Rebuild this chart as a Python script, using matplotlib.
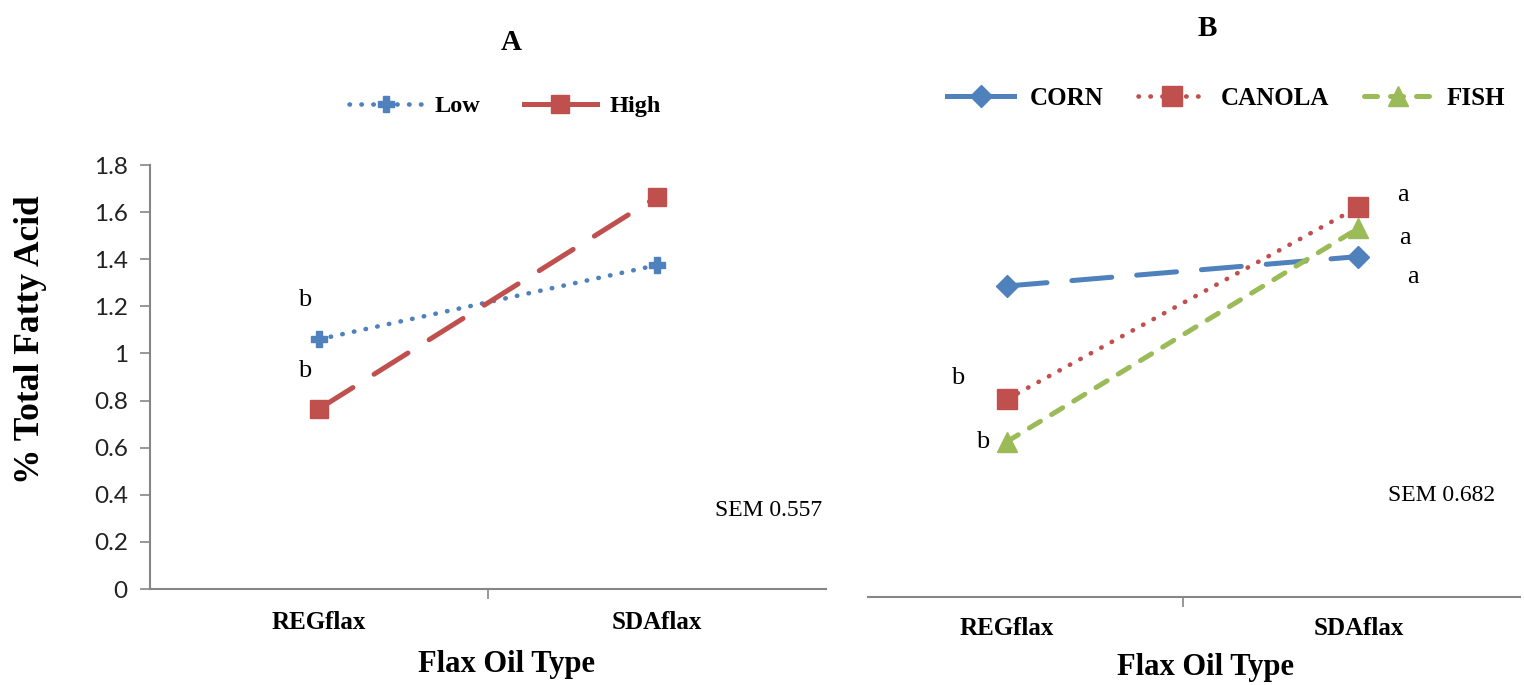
import numpy as np
import matplotlib.pyplot as plt

# data
categories = ['REGflax', 'SDAflax']
low = [1.06, 1.375]
high = [0.765, 1.665]
corn = [1.32, 1.445]
canola = [0.84, 1.655]
fish = [0.66, 1.565]

blue = '#4F81BD'
red = '#C0504D'
green = '#9BBB59'
grey = '#868686'
serif = 'Liberation Serif'

W, H = 1524, 685
fig = plt.figure(figsize=(W / 100, H / 100), dpi=100)

def box(l, r, b, t):
    return [l / W, 1 - b / H, (r - l) / W, (b - t) / H]

def letter(ax, txt, xv, yv, dx, dy):
    # significance letter placed next to a point, offset in pixels
    ax.annotate(txt, (xv, yv), xytext=(dx, dy), textcoords='offset pixels',
                ha='center', va='center', fontsize=19, family=serif)

x = np.arange(len(categories))
dots = (0, (0.1, 2.5))

# ---------- panel A ----------
ax1 = fig.add_axes(box(150, 826, 589, 165))
ax1.plot(x, low, color=blue, lw=3.3, linestyle=dots, dash_capstyle='round',
         marker='P', ms=12, label='Low')
ax1.plot(x, high, color=red, lw=3.6, linestyle=(0, (8, 5)), dash_capstyle='round',
         marker='s', ms=13, label='High')
ax1.set_xlim(-0.5, 1.5)
ax1.set_ylim(0, 1.8)
ax1.set_yticks(np.arange(0, 1.81, 0.2))
ax1.set_yticklabels(['0', '0.2', '0.4', '0.6', '0.8', '1', '1.2', '1.4', '1.6', '1.8'])
ax1.set_xticks([0.5])
ax1.set_xticklabels([''])
for i, c in enumerate(categories):
    ax1.text(i, -0.078, c, ha='center', va='center', fontsize=18, fontweight='bold',
             family=serif, transform=ax1.get_xaxis_transform())
for s in ['top', 'right']:
    ax1.spines[s].set_visible(False)
for s in ['left', 'bottom']:
    ax1.spines[s].set_color(grey)
    ax1.spines[s].set_linewidth(1.5)
ax1.tick_params(axis='y', colors=grey, length=7, width=1.2, labelsize=17.5, labelcolor='#222222', pad=9)
ax1.tick_params(axis='x', colors=grey, length=7, width=1.2)
for lab in ax1.get_yticklabels():
    lab.set_family('Lato')
ax1.set_ylabel('% Total Fatty Acid', fontsize=25.5, fontweight='bold', family=serif)
ax1.yaxis.set_label_coords(-0.152, 0.587)
ax1.text(0.528, -0.179, 'Flax Oil Type', transform=ax1.transAxes, ha='center', va='center',
         fontsize=22, fontweight='bold', family=serif)
ax1.text(0.535, 1.29, 'A', transform=ax1.transAxes, ha='center', va='center',
         fontsize=21, fontweight='bold', family=serif)
letter(ax1, 'b', x[0], low[0], -14, 39)
letter(ax1, 'b', x[0], high[0], -14, 38)
ax1.text(0.994, 0.186, 'SEM 0.557', transform=ax1.transAxes, ha='right', va='center',
         fontsize=17, family=serif)
leg1 = ax1.legend(loc='center', bbox_to_anchor=(0.525, 1.139), ncol=2, frameon=False,
                  handlelength=3.0, handletextpad=0.5, columnspacing=1.8,
                  prop={'family': serif, 'weight': 'bold', 'size': 17.5})
leg1.get_lines()[1].set_linestyle('-')

# ---------- panel B ----------
ax2 = fig.add_axes(box(868, 1520, 597, 165))
ax2.plot(x, corn, color=blue, lw=3.6, linestyle=(0, (8, 5)), dash_capstyle='round',
         marker='D', ms=11, label='CORN')
ax2.plot(x, canola, color=red, lw=3.3, linestyle=dots, dash_capstyle='round',
         marker='s', ms=14, label='CANOLA')
ax2.plot(x, fish, color=green, lw=3.6, linestyle=(0, (2.6, 2.6)), dash_capstyle='round',
         marker='^', ms=14, label='FISH')
ax2.set_xlim(-0.396, 1.46)
ax2.set_ylim(0, 432 / 235.6)
ax2.set_yticks([])
ax2.set_xticks([0.5])
ax2.set_xticklabels([''])
for i, c in enumerate(categories):
    ax2.text(i, -0.072, c, ha='center', va='center', fontsize=18, fontweight='bold',
             family=serif, transform=ax2.get_xaxis_transform())
for s in ['top', 'right', 'left']:
    ax2.spines[s].set_visible(False)
ax2.spines['bottom'].set_color(grey)
ax2.spines['bottom'].set_linewidth(1.5)
ax2.tick_params(axis='x', colors=grey, length=7, width=1.2)
ax2.text(0.518, -0.164, 'Flax Oil Type', transform=ax2.transAxes, ha='center', va='center',
         fontsize=22, fontweight='bold', family=serif)
ax2.text(0.52, 1.317, 'B', transform=ax2.transAxes, ha='center', va='center',
         fontsize=21, fontweight='bold', family=serif)
letter(ax2, 'b', x[0], canola[0], -49, 21)
letter(ax2, 'b', x[0], fish[0], -24, 0)
letter(ax2, 'a', x[1], canola[1], 45, 12)
letter(ax2, 'a', x[1], fish[1], 47, -10)
letter(ax2, 'a', x[1], corn[1], 55, -20)
ax2.text(0.962, 0.236, 'SEM 0.682', transform=ax2.transAxes, ha='right', va='center',
         fontsize=17, family=serif)
leg2 = ax2.legend(loc='center', bbox_to_anchor=(0.549, 1.155), ncol=3, frameon=False,
                  handlelength=2.7, handletextpad=0.6, columnspacing=1.4,
                  prop={'family': serif, 'weight': 'bold', 'size': 18})
leg2.get_lines()[0].set_linestyle('-')

fig.savefig('out.png', dpi=100)
